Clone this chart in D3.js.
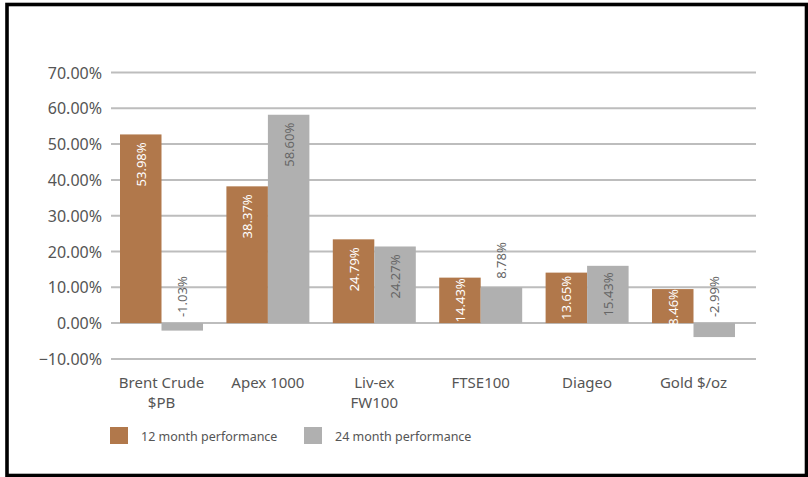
<!DOCTYPE html>
<html>
<head>
<meta charset="utf-8">
<script src="https://cdn.jsdelivr.net/npm/d3@7"></script>
<style>
  html, body { margin: 0; padding: 0; background: #fff; }
  svg { display: block; }
  text { font-family: "Noto Sans", "DejaVu Sans", sans-serif; }
</style>
</head>
<body>
<svg id="chart" width="808" height="477"></svg>
<script>
// ---- data ----
const categories = ["Brent Crude\n$PB", "Apex 1000", "Liv-ex\nFW100", "FTSE100", "Diageo", "Gold $/oz"];
const seriesNames = ["12 month performance", "24 month performance"];
// bar heights as drawn in the picture (percent)
const values12 = [52.7, 38.2, 23.4, 12.7, 14.1, 9.5];
const values24 = [-2.1, 58.2, 21.4, 10.0, 16.0, -3.9];
// data labels as printed on the picture
const labels12 = ["53.98%", "38.37%", "24.79%", "14.43%", "13.65%", "8.46%"];
const labels24 = ["-1.03%", "58.60%", "24.27%", "8.78%", "15.43%", "-2.99%"];
const yTicks = [-10, 0, 10, 20, 30, 40, 50, 60, 70];

const colors = ["#b1784b", "#b0b0b0"];

const svg = d3.select("#chart");
const W = 808, H = 477;

// frame
svg.append("rect").attr("x", 7).attr("y", 4.5).attr("width", 799.5).attr("height", 471)
  .attr("fill", "#fff").attr("stroke", "#000").attr("stroke-width", 3.6);

const y = d3.scaleLinear().domain([-10, 70]).range([358.9, 72.5]);
const x0 = d3.scaleBand().domain(categories).range([108.3, 746.7]).paddingInner(0.22).paddingOuter(0.11);
const x1 = d3.scaleBand().domain(seriesNames).range([0, x0.bandwidth()]);

// gridlines
svg.append("g").selectAll("line").data(yTicks).join("line")
  .attr("x1", 111).attr("x2", 756)
  .attr("y1", d => y(d)).attr("y2", d => y(d))
  .attr("stroke", "#bdbdbd").attr("stroke-width", 2);

// y axis labels
const yAxis = d3.axisLeft(y).tickValues(yTicks).tickSize(0).tickPadding(0)
  .tickFormat(d => d3.format(".2f")(d) + "%");
const gy = svg.append("g").attr("transform", "translate(102,0)").call(yAxis);
gy.select(".domain").remove();
gy.selectAll("text").attr("fill", "#555").style("font-size", "16px")
  .style("font-family", "'Noto Sans', sans-serif").attr("dy", "0.35em");

// bars
const rows = categories.map((c, i) => ({
  cat: c,
  items: [
    { s: seriesNames[0], v: values12[i], label: labels12[i], k: 0 },
    { s: seriesNames[1], v: values24[i], label: labels24[i], k: 1 }
  ]
}));

const groups = svg.append("g").selectAll("g").data(rows).join("g")
  .attr("transform", d => `translate(${x0(d.cat)},0)`);

groups.selectAll("rect").data(d => d.items).join("rect")
  .attr("x", d => x1(d.s))
  .attr("width", x1.bandwidth())
  .attr("y", d => y(Math.max(0, d.v)))
  .attr("height", d => Math.abs(y(d.v) - y(0)))
  .attr("fill", d => colors[d.k]);

// data labels (rotated, reading bottom to top)
groups.selectAll("text.val").data(d => d.items).join("text")
  .attr("class", "val")
  .style("font-size", "13px")
  .attr("dominant-baseline", "central")
  .text(d => d.label)
  .each(function (d) {
    const t = d3.select(this);
    const len = this.getComputedTextLength();
    const cx = x1(d.s) + x1.bandwidth() / 2;
    const top = y(d.v), zero = y(0);
    let py, anchor, fill;
    if (d.v < 0) {
      py = zero - 6; anchor = "start"; fill = "#666";
    } else {
      const h = zero - top;
      if (d.k === 1 && h < len + 2) {
        py = top - 8.5; anchor = "start"; fill = "#666";
      } else {
        const pad = Math.min(8, Math.max(0, (h - len) / 2));
        py = top + pad; anchor = "end"; fill = d.k === 0 ? "#fff" : "#666";
      }
    }
    t.attr("text-anchor", anchor).attr("fill", fill)
      .attr("transform", `translate(${cx},${py}) rotate(-90)`);
  });

// category labels
const xl = svg.append("g").selectAll("text").data(categories).join("text")
  .attr("x", d => x0(d) + x0.bandwidth() / 2)
  .attr("y", 388)
  .attr("text-anchor", "middle")
  .attr("fill", "#555")
  .style("font-size", "15px");
xl.selectAll("tspan").data(d => d.split("\n")).join("tspan")
  .attr("x", function () { return d3.select(this.parentNode).attr("x"); })
  .attr("dy", (d, i) => i === 0 ? 0 : 20)
  .text(d => d);

// legend
const legendX = [110, 304];
const lg = svg.append("g").selectAll("g").data(seriesNames).join("g")
  .attr("transform", (d, i) => `translate(${legendX[i]},427)`);
lg.append("rect").attr("width", 18).attr("height", 17).attr("fill", (d, i) => colors[i]);
lg.append("text").attr("x", 31).attr("y", 14)
  .attr("fill", "#555").style("font-size", "12.5px").text(d => d);
</script>
</body>
</html>
